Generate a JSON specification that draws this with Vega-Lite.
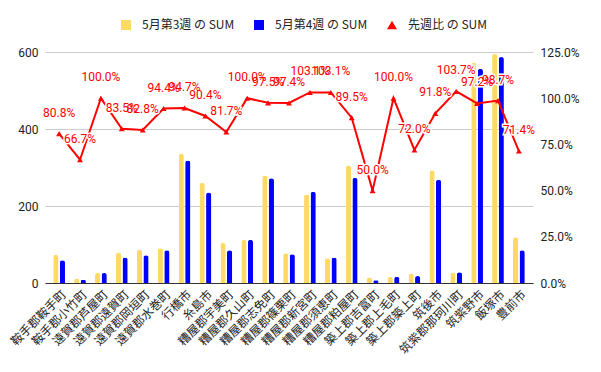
{
  "$schema": "https://vega.github.io/schema/vega-lite/v6.json",
  "width": 488,
  "height": 231,
  "autosize": "none",
  "padding": {"left": 45, "top": 52, "right": 68, "bottom": 89},
  "background": "white",
  "config": {
    "view": {"stroke": null},
    "font": "Roboto",
    "axis": {"labelFont": "Roboto", "labelFontSize": 12, "labelColor": "#222", "title": null, "ticks": false}
  },
  "data": {
    "values": [
      {"muni": "鞍手郡鞍手町", "w3": 73, "w4": 59, "ratio": 0.808},
      {"muni": "鞍手郡小竹町", "w3": 12, "w4": 8, "ratio": 0.667},
      {"muni": "遠賀郡芦屋町", "w3": 26, "w4": 26, "ratio": 1.0},
      {"muni": "遠賀郡遠賀町", "w3": 79, "w4": 66, "ratio": 0.835},
      {"muni": "遠賀郡岡垣町", "w3": 87, "w4": 72, "ratio": 0.828},
      {"muni": "遠賀郡水巻町", "w3": 90, "w4": 85, "ratio": 0.944},
      {"muni": "行橋市", "w3": 336, "w4": 318, "ratio": 0.947},
      {"muni": "糸島市", "w3": 260, "w4": 235, "ratio": 0.904},
      {"muni": "糟屋郡宇美町", "w3": 104, "w4": 85, "ratio": 0.817},
      {"muni": "糟屋郡久山町", "w3": 112, "w4": 112, "ratio": 1.0},
      {"muni": "糟屋郡志免町", "w3": 279, "w4": 272, "ratio": 0.975},
      {"muni": "糟屋郡篠栗町", "w3": 77, "w4": 75, "ratio": 0.974},
      {"muni": "糟屋郡新宮町", "w3": 230, "w4": 237, "ratio": 1.031},
      {"muni": "糟屋郡須恵町", "w3": 64, "w4": 66, "ratio": 1.031},
      {"muni": "糟屋郡粕屋町", "w3": 305, "w4": 273, "ratio": 0.895},
      {"muni": "築上郡吉富町", "w3": 14, "w4": 7, "ratio": 0.5},
      {"muni": "築上郡上毛町", "w3": 16, "w4": 16, "ratio": 1.0},
      {"muni": "築上郡築上町", "w3": 25, "w4": 18, "ratio": 0.72},
      {"muni": "筑後市", "w3": 292, "w4": 268, "ratio": 0.918},
      {"muni": "筑紫郡那珂川町", "w3": 27, "w4": 28, "ratio": 1.037},
      {"muni": "筑紫野市", "w3": 572, "w4": 556, "ratio": 0.972},
      {"muni": "飯塚市", "w3": 595, "w4": 587, "ratio": 0.987},
      {"muni": "豊前市", "w3": 119, "w4": 85, "ratio": 0.714}
    ]
  },
  "encoding": {
    "x": {
      "field": "muni",
      "type": "nominal",
      "sort": null,
      "scale": {"type": "band", "paddingInner": 0, "paddingOuter": 0.175},
      "axis": {
        "labelAngle": -45,
        "labelAlign": "right",
        "labelBaseline": "middle",
        "labelFont": "Noto Sans CJK JP",
        "labelFontSize": 12,
        "labelPadding": 9,
        "labelOffset": 5,
        "labelLimit": 300,
        "domainColor": "#333",
        "grid": false
      }
    }
  },
  "layer": [
    {
      "transform": [{"fold": ["w3", "w4"], "as": ["series", "value"]}],
      "mark": {"type": "bar", "cornerRadiusTopLeft": 2.5, "cornerRadiusTopRight": 2.5},
      "encoding": {
        "xOffset": {"field": "series", "type": "nominal", "scale": {"domain": ["w3", "w4"], "paddingInner": 0.2, "paddingOuter": 0.7}},
        "y": {
          "field": "value",
          "type": "quantitative",
          "scale": {"domain": [0, 600]},
          "axis": {"values": [0, 200, 400, 600], "domain": false, "grid": true, "gridColor": "#cccccc", "labelPadding": 7}
        },
        "color": {
          "field": "series",
          "type": "nominal",
          "scale": {"domain": ["w3", "w4", "ratio"], "range": ["#ffd966", "#0000ff", "#ff0000"]},
          "legend": {
            "title": null,
            "orient": "none",
            "legendX": 75,
            "legendY": -33,
            "direction": "horizontal",
            "symbolSize": 100,
            "symbolType": "square",
            "labelOffset": 10,
            "columnPadding": 18,
            "labelFont": "Noto Sans CJK JP",
            "labelFontSize": 12,
            "labelColor": "#222",
            "labelExpr": "datum.value == 'w3' ? '5月第3週 の SUM' : datum.value == 'w4' ? '5月第4週 の SUM' : '先週比 の SUM'",
            "encode": {
              "symbols": {
                "update": {
                  "shape": {"signal": "datum.value == 'ratio' ? 'triangle-up' : 'square'"},
                  "strokeWidth": {"value": 0}
                }
              }
            }
          }
        }
      }
    },
    {
      "encoding": {
        "y": {
          "field": "ratio",
          "type": "quantitative",
          "scale": {"domain": [0, 1.25]},
          "axis": {"orient": "right", "values": [0, 0.25, 0.5, 0.75, 1.0, 1.25], "format": ".1%", "domain": false, "grid": false, "labelPadding": 7}
        }
      },
      "layer": [
        {"mark": {"type": "line", "color": "#ff0000", "strokeWidth": 2}},
        {"mark": {"type": "point", "shape": "triangle-up", "filled": true, "color": "#ff0000", "size": 35, "opacity": 1}},
        {
          "mark": {"type": "text", "dy": -21, "baseline": "middle", "align": "center", "fontSize": 12, "font": "Roboto", "color": "white", "stroke": "white", "strokeWidth": 3},
          "encoding": {"text": {"field": "ratio", "type": "quantitative", "format": ".1%"}}
        },
        {
          "mark": {"type": "text", "dy": -21, "baseline": "middle", "align": "center", "fontSize": 12, "font": "Roboto", "color": "#ff0000"},
          "encoding": {"text": {"field": "ratio", "type": "quantitative", "format": ".1%"}}
        }
      ]
    }
  ],
  "resolve": {"scale": {"y": "independent"}}
}
